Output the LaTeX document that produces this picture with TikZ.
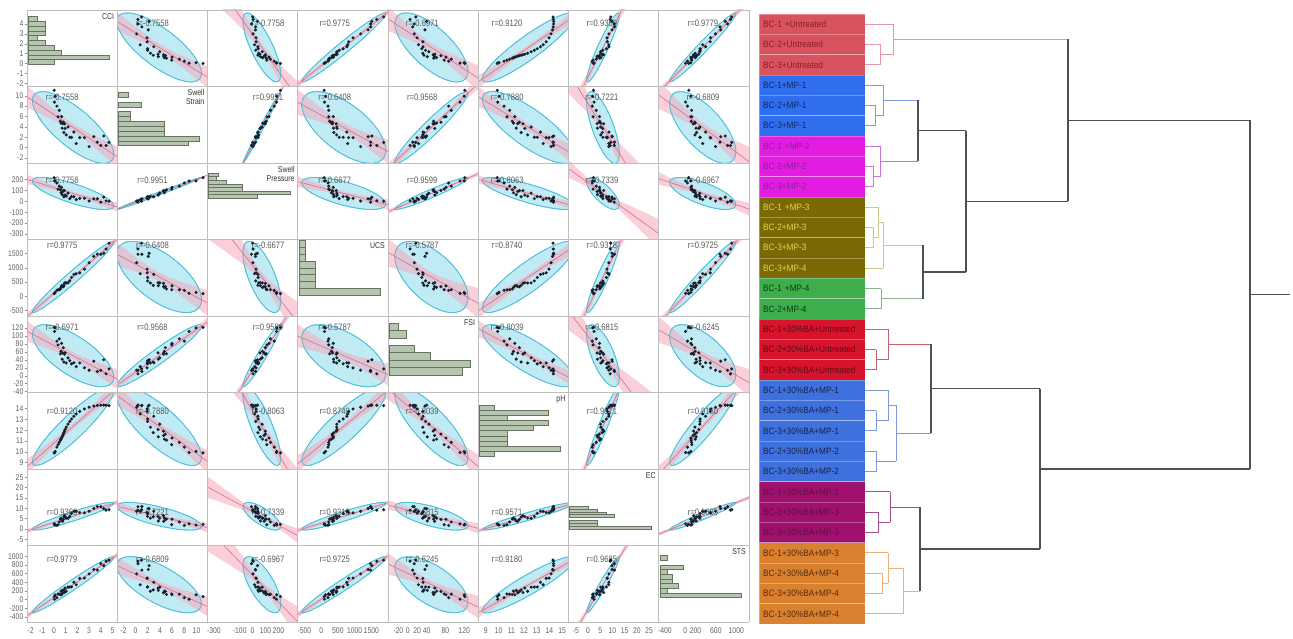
\documentclass[tikz,border=0pt]{standalone}
\usepackage{tikz}
\usepackage{fontspec}
\setmainfont{Liberation Sans}
\newfontfamily\cond[FakeStretch=0.82]{Liberation Sans}
\newfontfamily\condb[FakeStretch=0.9]{Liberation Sans}
\usepackage{xfp}
% ---------- colours
\definecolor{ellc}{HTML}{C0EAF4}
\definecolor{elld}{HTML}{4EC1D9}
\definecolor{bandc}{HTML}{F6A9BC}
\definecolor{regc}{HTML}{D4708A}
\definecolor{dotc}{HTML}{16222E}
\definecolor{barc}{HTML}{B6C5AF}
\definecolor{bard}{HTML}{66735F}
\definecolor{gridc}{HTML}{BEBEBE}
\definecolor{lf1}{HTML}{D9535F}\definecolor{lt1}{HTML}{8A1B2B}
\definecolor{lf2}{HTML}{2F6EEE}\definecolor{lt2}{HTML}{16265E}
\definecolor{lf3}{HTML}{E21CE0}\definecolor{lt3}{HTML}{8E1E96}
\definecolor{lf4}{HTML}{7A6905}\definecolor{lt4}{HTML}{E5D54A}
\definecolor{lf5}{HTML}{3DAE4B}\definecolor{lt5}{HTML}{0F3A17}
\definecolor{lf6}{HTML}{D8142D}\definecolor{lt6}{HTML}{5C0B14}
\definecolor{lf7}{HTML}{3E71DE}\definecolor{lt7}{HTML}{15214F}
\definecolor{lf8}{HTML}{A0116D}\definecolor{lt8}{HTML}{5E0C47}
\definecolor{lf9}{HTML}{D9812F}\definecolor{lt9}{HTML}{5A2B09}
\definecolor{tr1}{HTML}{E796A5}\definecolor{tr2}{HTML}{7F9CE2}
\definecolor{tr3}{HTML}{C876D6}\definecolor{tr4}{HTML}{CEC88E}
\definecolor{tr5}{HTML}{8DB28E}\definecolor{tr6}{HTML}{C4616F}
\definecolor{tr7}{HTML}{7F98D6}\definecolor{tr8}{HTML}{A34F8B}
\definecolor{tr9}{HTML}{E9B27B}\definecolor{trdk}{HTML}{505050}
% ---------- axis ranges
\def\setrng#1#2#3{\expandafter\def\csname mn#1\endcsname{#2}\expandafter\def\csname mx#1\endcsname{#3}}
\setrng{1}{-2.3}{5.4}
\setrng{2}{-3}{11.8}
\setrng{3}{-350}{350}
\setrng{4}{-700}{2000}
\setrng{5}{-42}{150}
\setrng{6}{8.4}{15.5}
\setrng{7}{-8}{29}
\setrng{8}{-520}{1250}
% ---------- tick labels (left, bottom)
\def\settk#1#2#3{\expandafter\def\csname yt#1\endcsname{#2}\expandafter\def\csname xt#1\endcsname{#3}}
\settk{1}{-2,-1,0,1,2,3,4}{-2,-1,0,1,2,3,4,5}
\settk{2}{-2,0,2,4,6,8,10}{-2,0,2,4,6,8,10}
\settk{3}{-300,-200,-100,0,100,200}{-300,-100,0,100,200}
\settk{4}{-500,0,500,1000,1500}{-500,0,500,1000,1500}
\settk{5}{-40,-20,0,20,40,60,80,100,120}{-20,0,20,40,80,120}
\settk{6}{9,10,11,12,13,14}{9,10,11,12,13,14,15}
\settk{7}{-5,0,5,10,15,20,25}{-5,0,5,10,15,20,25}
\settk{8}{-400,-200,0,200,400,600,800,1000}{-400,0,200,600,1000}
% ---------- variable names
\expandafter\def\csname vn1\endcsname{CCI}
\expandafter\def\csname vn2\endcsname{Swell\\Strain}
\expandafter\def\csname vn3\endcsname{Swell\\Pressure}
\expandafter\def\csname vn4\endcsname{UCS}
\expandafter\def\csname vn5\endcsname{FSI}
\expandafter\def\csname vn6\endcsname{pH}
\expandafter\def\csname vn7\endcsname{EC}
\expandafter\def\csname vn8\endcsname{STS}
% ---------- histograms: top fraction, bin fraction, bar lengths
\def\sethist#1#2#3#4{\expandafter\def\csname ht#1\endcsname{#2}\expandafter\def\csname hb#1\endcsname{#3}\expandafter\def\csname hl#1\endcsname{#4}}
\sethist{1}{0.087}{0.0623}{0.10,0.19,0.19,0.19,0.10,0.19,0.29,0.37,0.90,0.29}
\sethist{2}{0.075}{0.0635}{0.11,0,0.26,0,0.13,0.13,0.51,0.51,0.51,0.90,0.77}
\sethist{3}{0.13}{0.047}{0.11,0.09,0.2,0.37,0.37,0.90,0.54}
\sethist{4}{0.01}{0.09}{0.07,0.07,0.07,0.18,0.18,0.18,0.18,0.90}
\sethist{5}{0.09}{0.097}{0.1,0.19,0,0.28,0.46,0.9,0.81}
\sethist{6}{0.16}{0.0675}{0.17,0.76,0.31,0.76,0.6,0.31,0.31,0.31,0.9,0.17}
\sethist{7}{0.485}{0.037}{0.21,0.31,0.41,0.5,0,0.31,0.31,0.9}
\sethist{8}{0.13}{0.061}{0.08,0,0.26,0.08,0.14,0.14,0.2,0.08,0.9}
% ---------- r label placement (column fraction, row fraction)
\def\setlf#1#2#3{\expandafter\def\csname cf#1\endcsname{#2}\expandafter\def\csname rf#1\endcsname{#3}}
\setlf{1}{0.39}{0.17}\setlf{2}{0.39}{0.14}\setlf{3}{0.67}{0.22}\setlf{4}{0.41}{0.08}
\setlf{5}{0.38}{0.15}\setlf{6}{0.32}{0.24}\setlf{7}{0.37}{0.56}\setlf{8}{0.49}{0.18}
% ---------- correlations
\def\setr#1#2#3{\expandafter\def\csname R#1-#2\endcsname{#3}\expandafter\def\csname R#2-#1\endcsname{#3}}
\setr{1}{2}{-0.7558}\setr{1}{3}{-0.7758}\setr{1}{4}{0.9775}\setr{1}{5}{-0.6971}
\setr{1}{6}{0.9120}\setr{1}{7}{0.9369}\setr{1}{8}{0.9779}
\setr{2}{3}{0.9951}\setr{2}{4}{-0.6408}\setr{2}{5}{0.9568}\setr{2}{6}{-0.7880}
\setr{2}{7}{-0.7221}\setr{2}{8}{-0.6809}
\setr{3}{4}{-0.6677}\setr{3}{5}{0.9599}\setr{3}{6}{-0.8063}\setr{3}{7}{-0.7339}\setr{3}{8}{-0.6967}
\setr{4}{5}{-0.5787}\setr{4}{6}{0.8740}\setr{4}{7}{0.9318}\setr{4}{8}{0.9725}
\setr{5}{6}{-0.8039}\setr{5}{7}{-0.6815}\setr{5}{8}{-0.6245}
\setr{6}{7}{0.9571}\setr{6}{8}{0.9180}
\setr{7}{8}{0.9685}
% ---------- sample data (CCI values)
\def\cclist{0.02,0.05,0.1,0.25,0.35,0.45,0.55,0.6,0.65,0.7,0.75,0.8,0.85,0.9,0.95,1.05,1.2,1.35,1.5,1.7,1.9,2.2,2.6,3.0,3.4,3.7,4.0,4.25,4.45,4.7}
\def\stor#1#2#3{\expandafter\xdef\csname u#1-#2\endcsname{\fpeval{round(((#3)-(\csname mn#1\endcsname))/((\csname mx#1\endcsname)-(\csname mn#1\endcsname)),5)}}}
% dendrogram bracket: style1, style2, vertical style, child1, child2, parent
\newcommand\brk[6]{%
  \draw[#1] (#4) -- (#4 -| #6);
  \draw[#2] (#5) -- (#5 -| #6);
  \draw[#3] (#4 -| #6) -- (#5 -| #6);}
\begin{document}
\begin{tikzpicture}[x=1pt,y=1pt]
\tikzset{
  ellfill/.style={fill=ellc, draw=elld, line width=0.7},
  elledge/.style={draw=elld, line width=0.7},
  bandfill/.style={fill=bandc, fill opacity=0.55},
  regline/.style={draw=regc, line width=0.6},
  dot/.style={fill=dotc},
  hbar/.style={fill=barc, draw=bard, line width=0.45},
  tick/.style={font=\cond\fontsize{8.3}{9}\selectfont, text=black!62, inner sep=0.5},
  rlab/.style={font=\cond\fontsize{9.3}{10}\selectfont, text=black!65, inner sep=0},
  vname/.style={font=\cond\fontsize{8.5}{9}\selectfont, text=black!80, align=right, inner sep=1},
  leaf/.style={rectangle, minimum width=106, minimum height=20.333, inner sep=0,
    font=\condb\fontsize{9.2}{10}\selectfont, text width=98, align=left,
    draw=white, draw opacity=0.3, line width=0.4},
  t1/.style={draw=tr1, line width=0.9}, t2/.style={draw=tr2, line width=0.9},
  t3/.style={draw=tr3, line width=0.9}, t4/.style={draw=tr4, line width=0.9},
  t5/.style={draw=tr5, line width=0.9}, t6/.style={draw=tr6, line width=0.9},
  t7/.style={draw=tr7, line width=0.9}, t8/.style={draw=tr8, line width=0.9},
  t9/.style={draw=tr9, line width=0.9}, dk/.style={draw=trdk, line width=1.1},
  cellgrid/.style={draw=gridc, line width=0.8}
}
\useasboundingbox (0,0) rectangle (1293,-639);
\fill[white] (0,0) rectangle (1293,-639);
% ================= data generation
\foreach \cc [count=\k] in \cclist {
  \xdef\myt{\fpeval{\cc/4.7}}
  \xdef\vB{\fpeval{0.6+9.4*exp(-6.5*\myt)+1.1*sin(2.3*\k)+0.5}}
  \xdef\vC{\fpeval{-10+21*\vB+12*sin(3.7*\k)}}
  \xdef\vD{\fpeval{90+360*\cc+110*sin(5.1*\k)*sqrt(\myt)}}
  \xdef\vE{\fpeval{8+11*\vB+9*sin(4.3*\k)}}
  \xdef\vF{\fpeval{9.9+4.1*(1-exp(-4*\myt))/(1-exp(-4))+0.4*sin(6.1*\k)}}
  \xdef\vG{\fpeval{1.2+9*(1-exp(-3*\myt))/(1-exp(-3))+1.1*sin(7.3*\k)}}
  \xdef\vH{\fpeval{40+185*\cc+50*sin(8.9*\k)}}
  \stor{1}{\k}{\cc}\stor{2}{\k}{\vB}\stor{3}{\k}{\vC}\stor{4}{\k}{\vD}%
  \stor{5}{\k}{\vE}\stor{6}{\k}{\vF}\stor{7}{\k}{\vG}\stor{8}{\k}{\vH}%
}
\foreach \i in {1,...,8}{
  \gdef\acc{0}
  \foreach \k in {1,...,30}{\xdef\acc{\fpeval{\acc+\csname u\i-\k\endcsname}}}
  \expandafter\xdef\csname m\i\endcsname{\fpeval{\acc/30}}
  \gdef\acc{0}
  \foreach \k in {1,...,30}{\xdef\acc{\fpeval{\acc+(\csname u\i-\k\endcsname-\csname m\i\endcsname)^2}}}
  \expandafter\xdef\csname V\i\endcsname{\fpeval{\acc/30}}
}
% ================= scatterplot matrix cells
\foreach \ri in {1,...,8}{
 \foreach \ci in {1,...,8}{
  \edef\cL{\fpeval{27+(\ci-1)*90.25}}
  \edef\cR{\fpeval{\cL+90.25}}
  \edef\cB{\fpeval{-10-\ri*76.5}}
  \edef\cT{\fpeval{\cB+76.5}}
  \ifnum\ri=\ci\relax
    \expandafter\let\expandafter\hlist\csname hl\ri\endcsname
    \edef\htop{\csname ht\ri\endcsname}
    \edef\hbin{\csname hb\ri\endcsname}
    \foreach \len [count=\n] in \hlist {
      \ifdim \len pt>0pt
        \filldraw[hbar] ({\cL+1},{\cT-76.5*(\htop+(\n-1)*\hbin)}) rectangle ({\cL+1+90.25*\len},{\cT-76.5*(\htop+\n*\hbin)});
      \fi
    }
    \node[vname, anchor=north east] (vn\ri) at ({\cR-2},{\cT-2}) {\csname vn\ri\endcsname};
  \else
    \edef\sxx{\fpeval{8145.0625*(\csname V\ci\endcsname)}}
    \edef\syy{\fpeval{5852.25*(\csname V\ri\endcsname)}}
    \edef\sxy{\fpeval{(\csname R\ri-\ci\endcsname)*sqrt((\sxx)*(\syy))}}
    \edef\cx{\fpeval{round(\cL+90.25*\csname m\ci\endcsname,3)}}
    \edef\cy{\fpeval{round(\cB+76.5*\csname m\ri\endcsname,3)}}
    \edef\eAng{\fpeval{round(0.5*atand(2*(\sxy),(\sxx)-(\syy)),3)}}
    \edef\dd{\fpeval{sqrt((((\sxx)-(\syy))/2)^2+(\sxy)^2)}}
    \edef\ea{\fpeval{round(sqrt(5.991*(((\sxx)+(\syy))/2+(\dd))),3)}}
    \edef\eb{\fpeval{round(sqrt(5.991*max(((\sxx)+(\syy))/2-(\dd),0.3)),3)}}
    \edef\bet{\fpeval{round((\sxy)/(\sxx),4)}}
    \edef\Aw{\fpeval{round(2.048*sqrt(max((\syy)-(\sxy)^2/(\sxx),0)/28),4)}}
    \edef\sdx{\fpeval{round(sqrt(\sxx),4)}}
    \begin{scope}
      \clip (\cL,\cB) rectangle (\cR,\cT);
      \filldraw[ellfill, rotate around={\eAng:(\cx,\cy)}] (\cx,\cy) ellipse [x radius=\ea, y radius=\eb];
      \fill[bandfill] plot[domain=\cL:\cR, samples=16] (\x,{\cy+(\bet)*(\x-\cx)+\Aw*sqrt(1+((\x-\cx)/\sdx)^2)})
        -- plot[domain=\cR:\cL, samples=16] (\x,{\cy+(\bet)*(\x-\cx)-\Aw*sqrt(1+((\x-\cx)/\sdx)^2)}) -- cycle;
      \draw[elledge, rotate around={\eAng:(\cx,\cy)}] (\cx,\cy) ellipse [x radius=\ea, y radius=\eb];
      \draw[regline] (\cL,{\cy+(\bet)*(\cL-\cx)}) -- (\cR,{\cy+(\bet)*(\cR-\cx)});
      \edef\lx{\csname cf\ci\endcsname}\edef\ly{\csname rf\ri\endcsname}
      \node[rlab] (r\ri-\ci) at ({\cL+90.25*\lx},{\cT-76.5*\ly}) {r=\csname R\ri-\ci\endcsname};
      \foreach \k in {1,...,30}{
        \edef\ux{\csname u\ci-\k\endcsname}\edef\uy{\csname u\ri-\k\endcsname}
        \fill[dot] ({\cL+90.25*\ux},{\cB+76.5*\uy}) circle[radius=1.7];
      }
    \end{scope}
  \fi
 }
}
% grid
\foreach \i in {0,...,8}{
  \draw[cellgrid] ({27+\i*90.25},-10) -- ({27+\i*90.25},-622);
  \draw[cellgrid] (27,{-10-\i*76.5}) -- (749,{-10-\i*76.5});
}
% tick labels
\foreach \ri in {1,...,8}{
  \edef\mnv{\csname mn\ri\endcsname}\edef\mxv{\csname mx\ri\endcsname}
  \expandafter\let\expandafter\tlist\csname yt\ri\endcsname
  \foreach \v in \tlist {
    \edef\ty{\fpeval{round(-10-(\ri-1)*76.5-76.5*((\mxv)-(\v))/((\mxv)-(\mnv)),3)}}
    \draw[black!45, line width=0.5] (24.5,\ty) -- (27,\ty);
    \node[tick, anchor=east] at (24,\ty) {\v};
  }
  \expandafter\let\expandafter\xlist\csname xt\ri\endcsname
  \foreach \v in \xlist {
    \edef\tx{\fpeval{round(27+(\ri-1)*90.25+90.25*((\v)-(\mnv))/((\mxv)-(\mnv)),3)}}
    \node[tick] at (\tx,-631) {\v};
  }
}
% ================= dendrogram labels
\foreach \i/\g/\s in {
1/1/BC-1 +Untreated,
2/1/BC-2+Untreated,
3/1/BC-3+Untreated,
4/2/BC-1+MP-1,
5/2/BC-2+MP-1,
6/2/BC-3+MP-1,
7/3/BC-1 +MP-2,
8/3/BC-2+MP-2,
9/3/BC-3+MP-2,
10/4/BC-1 +MP-3,
11/4/BC-2+MP-3,
12/4/BC-3+MP-3,
13/4/BC-3+MP-4,
14/5/BC-1 +MP-4,
15/5/BC-2+MP-4,
16/6/BC-1+30\%BA+Untreated,
17/6/BC-2+30\%BA+Untreated,
18/6/BC-3+30\%BA+Untreated,
19/7/BC-1+30\%BA+MP-1,
20/7/BC-2+30\%BA+MP-1,
21/7/BC-3+30\%BA+MP-1,
22/7/BC-2+30\%BA+MP-2,
23/7/BC-3+30\%BA+MP-2,
24/8/BC-1+30\%BA+MP-2,
25/8/BC-2+30\%BA+MP-3,
26/8/BC-3+30\%BA+MP-3,
27/9/BC-1+30\%BA+MP-3,
28/9/BC-2+30\%BA+MP-4,
29/9/BC-3+30\%BA+MP-4,
30/9/BC-1+30\%BA+MP-4}{
  \edef\fc{lf\g}\edef\tc{lt\g}
  \node[leaf, fill=\fc, text=\tc] (l\i) at (812,{-14-20.3333*(\i-0.5)}) {\s};
}
% ================= dendrogram joins
\coordinate (a23) at (880,-54.67);   \coordinate (a1) at (893,-39.42);
\coordinate (a56) at (875,-115.67);  \coordinate (a4) at (883,-100.42);
\coordinate (a89) at (873,-176.67);  \coordinate (a7) at (880,-161.42);
\coordinate (b23) at (918,-130.92);
\coordinate (a1112) at (873,-237.67); \coordinate (a10) at (878,-222.42); \coordinate (a13) at (883,-245.29);
\coordinate (a1415) at (881,-298.67);
\coordinate (b45) at (923,-271.98);
\coordinate (b2345) at (966,-201.45);
\coordinate (b12345) at (1068,-120.43);
\coordinate (a1718) at (876,-359.67); \coordinate (a16) at (888,-344.42);
\coordinate (a2021) at (876,-420.67); \coordinate (a19) at (888,-405.42);
\coordinate (a2223) at (876,-461.33); \coordinate (a1923) at (896,-433.38);
\coordinate (b67) at (931,-388.9);
\coordinate (a2526) at (878,-522.33); \coordinate (a24) at (890,-507.08);
\coordinate (a2829) at (882,-583.33); \coordinate (a27) at (888,-568.08); \coordinate (a30) at (903,-590.96);
\coordinate (b89) at (920,-549.02);
\coordinate (b6789) at (1040,-468.96);
\coordinate (root) at (1250,-294.7);
\coordinate (stub) at (1290,-294.7);
\brk{t1}{t1}{t1}{l2.east}{l3.east}{a23}
\brk{t1}{t1}{t1}{l1.east}{a23}{a1}
\brk{t2}{t2}{t2}{l5.east}{l6.east}{a56}
\brk{t2}{t2}{t2}{l4.east}{a56}{a4}
\brk{t3}{t3}{t3}{l8.east}{l9.east}{a89}
\brk{t3}{t3}{t3}{l7.east}{a89}{a7}
\brk{t2}{t3}{dk}{a4}{a7}{b23}
\brk{t4}{t4}{t4}{l11.east}{l12.east}{a1112}
\brk{t4}{t4}{t4}{l10.east}{a1112}{a10}
\brk{t4}{t4}{t4}{a10}{l13.east}{a13}
\brk{t5}{t5}{t5}{l14.east}{l15.east}{a1415}
\brk{t4}{t5}{dk}{a13}{a1415}{b45}
\brk{dk}{dk}{dk}{b23}{b45}{b2345}
\brk{t1}{dk}{dk}{a1}{b2345}{b12345}
\brk{t6}{t6}{t6}{l17.east}{l18.east}{a1718}
\brk{t6}{t6}{t6}{l16.east}{a1718}{a16}
\brk{t7}{t7}{t7}{l20.east}{l21.east}{a2021}
\brk{t7}{t7}{t7}{l19.east}{a2021}{a19}
\brk{t7}{t7}{t7}{l22.east}{l23.east}{a2223}
\brk{t7}{t7}{t7}{a19}{a2223}{a1923}
\brk{t6}{t7}{dk}{a16}{a1923}{b67}
\brk{t8}{t8}{t8}{l25.east}{l26.east}{a2526}
\brk{t8}{t8}{t8}{l24.east}{a2526}{a24}
\brk{t9}{t9}{t9}{l28.east}{l29.east}{a2829}
\brk{t9}{t9}{t9}{l27.east}{a2829}{a27}
\brk{t9}{t9}{t9}{a27}{l30.east}{a30}
\brk{t8}{t9}{dk}{a24}{a30}{b89}
\brk{dk}{dk}{dk}{b67}{b89}{b6789}
\brk{dk}{dk}{dk}{b12345}{b6789}{root}
\draw[dk] (root) -- (stub);
\end{tikzpicture}
\end{document}
